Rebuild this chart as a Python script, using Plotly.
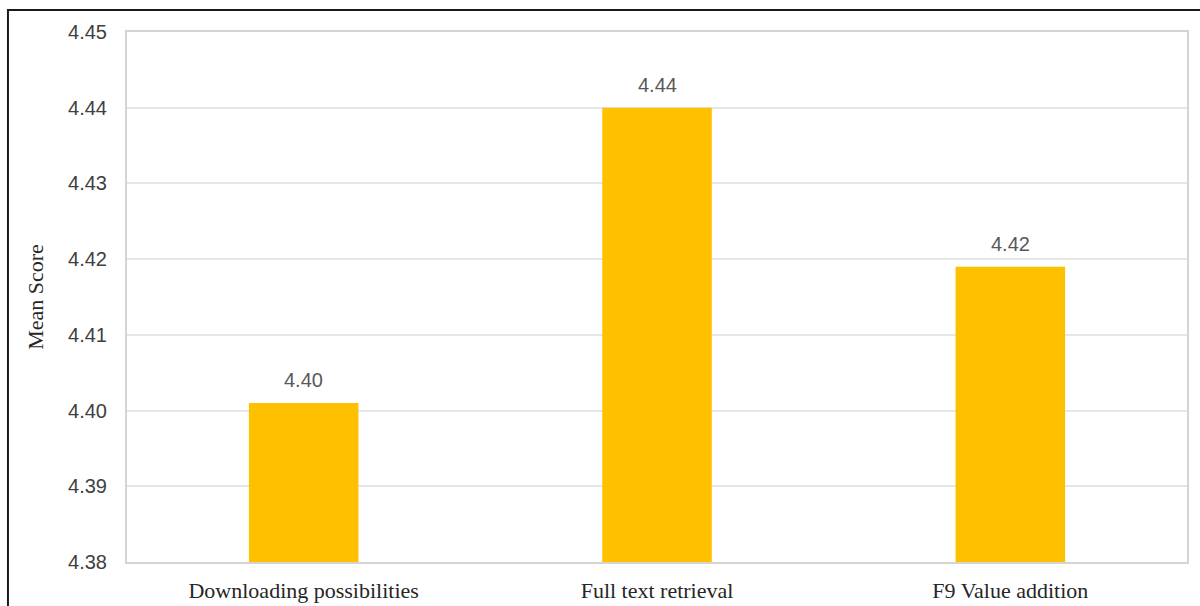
import plotly.graph_objects as go

# Mean scores per feature
categories = ["Downloading possibilities", "Full text retrieval", "F9 Value addition"]
mean_scores = [4.401, 4.440, 4.419]
value_labels = [f"{v:.2f}" for v in mean_scores]
y_ticks = [4.38, 4.39, 4.40, 4.41, 4.42, 4.43, 4.44, 4.45]

BAR_COLOR = "#FFC000"
SANS = "Liberation Sans, Arial, sans-serif"
SERIF = "Liberation Serif, Times New Roman, serif"

fig = go.Figure()
fig.add_trace(go.Bar(
    x=categories,
    y=mean_scores,
    marker=dict(color=BAR_COLOR, line=dict(width=0)),
    hoverinfo="x+y",
))

for cat, v, lab in zip(categories, mean_scores, value_labels):
    fig.add_annotation(
        x=cat, y=v, text=lab, showarrow=False,
        yanchor="bottom", yshift=10,
        font=dict(family=SANS, size=20, color="#595959"),
    )

# outer frame around the whole chart
fig.add_shape(
    type="rect", xref="paper", yref="paper",
    x0=-0.1123, y0=-0.3, x1=1.05, y1=1.0415,
    line=dict(color="#1a1a1a", width=2), fillcolor="rgba(0,0,0,0)", layer="below",
)

fig.update_layout(
    width=1200, height=606,
    margin=dict(l=127, r=13, t=32, b=44, autoexpand=False),
    paper_bgcolor="white", plot_bgcolor="white",
    bargap=0.69,
    showlegend=False,
    xaxis=dict(
        automargin=False,
        showgrid=False, showline=True, mirror=True,
        linecolor="#d4d4d4", linewidth=2,
        ticks="", tickfont=dict(family=SERIF, size=22, color="#262626"),
        ticklabelstandoff=8,
    ),
    yaxis=dict(
        automargin=False,
        range=[4.38, 4.45],
        tickvals=y_ticks,
        ticktext=[f"{t:.2f}" for t in y_ticks],
        showgrid=True, gridcolor="#e6e6e6", gridwidth=1.5,
        showline=True, mirror=True, linecolor="#d4d4d4", linewidth=2,
        zeroline=False, ticks="",
        tickfont=dict(family=SANS, size=20, color="#404040"),
        ticklabelstandoff=14,
        title=dict(text="Mean Score", font=dict(family=SERIF, size=22, color="#262626"), standoff=18),
    ),
)

fig.write_html("out.html")
